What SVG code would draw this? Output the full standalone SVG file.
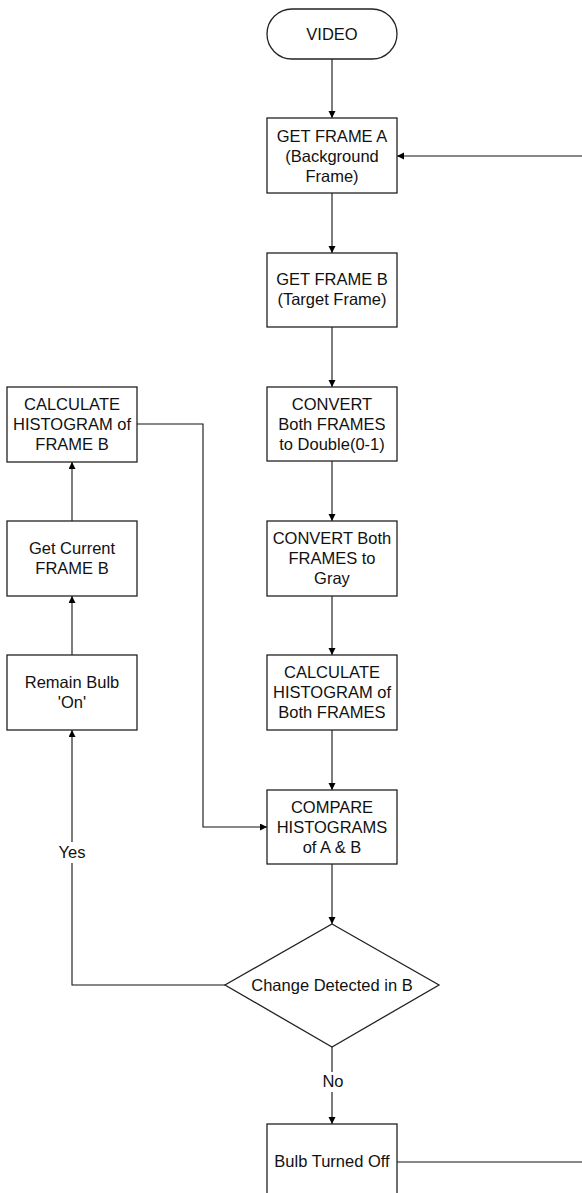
<svg xmlns="http://www.w3.org/2000/svg" width="582" height="1193" viewBox="0 0 582 1193">
<defs>
<marker id="arr" markerWidth="10" markerHeight="10" refX="7" refY="3.5" orient="auto" markerUnits="userSpaceOnUse">
<path d="M0,0 L7,3.5 L0,7 Z" fill="#000"/>
</marker>
<style>
.box{fill:#fff;stroke:#222;stroke-width:1.3}
.ln{fill:none;stroke:#111;stroke-width:1.1}
text{font-family:"Liberation Sans",Arial,sans-serif;font-size:16.5px;fill:#111;text-anchor:middle}
</style>
</defs>
<rect width="582" height="1193" fill="#fff"/>
<g id="connectors">
<path class="ln" d="M332,59 V118" marker-end="url(#arr)"/>
<path class="ln" d="M332,193 V253" marker-end="url(#arr)"/>
<path class="ln" d="M332,327 V387" marker-end="url(#arr)"/>
<path class="ln" d="M332,461 V521" marker-end="url(#arr)"/>
<path class="ln" d="M332,596 V655" marker-end="url(#arr)"/>
<path class="ln" d="M332,730 V790" marker-end="url(#arr)"/>
<path class="ln" d="M332,864 V924" marker-end="url(#arr)"/>
<path class="ln" d="M332,1047 V1072 M332,1092 V1124" marker-end="url(#arr)"/>
<path class="ln" d="M397,1162 H590 V156 H397" marker-end="url(#arr)"/>
<path class="ln" d="M137,424 H203 V827 H267" marker-end="url(#arr)"/>
<path class="ln" d="M225,985 H72 V863 M72,842 V730" marker-end="url(#arr)"/>
<path class="ln" d="M72,655 V596" marker-end="url(#arr)"/>
<path class="ln" d="M72,521 V462" marker-end="url(#arr)"/>
<text x="333" y="1087">No</text>
<text x="72" y="858">Yes</text>
</g>
<g id="video">
<rect class="box" x="267" y="9" width="130" height="50" rx="25" ry="25"/>
<text x="332" y="40">VIDEO</text>
</g>
<g id="frameA">
<rect class="box" x="267" y="118" width="130" height="75"/>
<text x="332" y="142">GET FRAME A</text>
<text x="332" y="162">(Background</text>
<text x="332" y="182">Frame)</text>
</g>
<g id="frameB">
<rect class="box" x="267" y="253" width="130" height="74"/>
<text x="332" y="285">GET FRAME B</text>
<text x="332" y="305">(Target Frame)</text>
</g>
<g id="convertDouble">
<rect class="box" x="267" y="387" width="130" height="74"/>
<text x="332" y="410">CONVERT</text>
<text x="332" y="430">Both FRAMES</text>
<text x="332" y="450">to Double(0-1)</text>
</g>
<g id="convertGray">
<rect class="box" x="267" y="521" width="130" height="75"/>
<text x="332" y="544">CONVERT Both</text>
<text x="332" y="564">FRAMES to</text>
<text x="332" y="584">Gray</text>
</g>
<g id="histBoth">
<rect class="box" x="267" y="655" width="130" height="75"/>
<text x="332" y="678">CALCULATE</text>
<text x="332" y="698">HISTOGRAM of</text>
<text x="332" y="718">Both FRAMES</text>
</g>
<g id="compare">
<rect class="box" x="267" y="790" width="130" height="74"/>
<text x="332" y="813">COMPARE</text>
<text x="332" y="833">HISTOGRAMS</text>
<text x="332" y="853">of A &amp; B</text>
</g>
<g id="decision">
<polygon class="box" points="332,924 439,985 332,1047 225,985"/>
<text x="332" y="991">Change Detected in B</text>
</g>
<g id="bulbOff">
<rect class="box" x="267" y="1124" width="130" height="75"/>
<text x="332" y="1167">Bulb Turned Off</text>
</g>
<g id="histB">
<rect class="box" x="7" y="387" width="130" height="75"/>
<text x="72" y="410">CALCULATE</text>
<text x="72" y="430">HISTOGRAM of</text>
<text x="72" y="450">FRAME B</text>
</g>
<g id="currentB">
<rect class="box" x="7" y="521" width="130" height="75"/>
<text x="72" y="554">Get Current</text>
<text x="72" y="574">FRAME B</text>
</g>
<g id="remainOn">
<rect class="box" x="7" y="655" width="130" height="75"/>
<text x="72" y="688">Remain Bulb</text>
<text x="72" y="708">'On'</text>
</g>
</svg>
